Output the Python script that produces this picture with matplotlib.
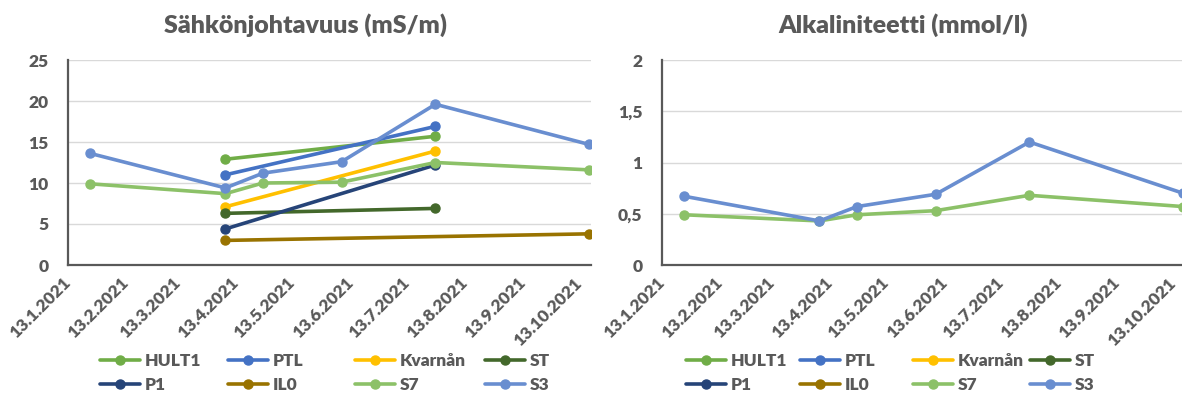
import datetime as dt

import matplotlib
matplotlib.use("Agg")
import matplotlib.pyplot as plt
import matplotlib.transforms as mtransforms
from matplotlib.ticker import FuncFormatter

plt.rcParams["font.family"] = ["Lato", "DejaVu Sans"]
plt.rcParams["font.weight"] = "bold"

GRAY = "#595959"

# näytteenottopäivät
dates_s = [dt.date(2021, 1, 25), dt.date(2021, 4, 7), dt.date(2021, 4, 27),
           dt.date(2021, 6, 8), dt.date(2021, 7, 28), dt.date(2021, 10, 18)]
dates_two = [dt.date(2021, 4, 7), dt.date(2021, 7, 28)]
dates_il0 = [dt.date(2021, 4, 7), dt.date(2021, 10, 18)]

# sähkönjohtavuus (mS/m)
hult1_ec = [12.9, 15.7]
ptl_ec = [11.0, 16.9]
kvarnan_ec = [7.1, 13.9]
st_ec = [6.3, 6.9]
p1_ec = [4.4, 12.2]
il0_ec = [3.0, 3.8]
s7_ec = [9.9, 8.7, 10.0, 10.1, 12.5, 11.6]
s3_ec = [13.6, 9.4, 11.2, 12.6, 19.6, 14.7]

# alkaliniteetti (mmol/l)
s7_alk = [0.49, 0.43, 0.49, 0.53, 0.68, 0.57]
s3_alk = [0.67, 0.43, 0.57, 0.69, 1.20, 0.70]

names = ["HULT1", "PTL", "Kvarnån", "ST", "P1", "IL0", "S7", "S3"]
colors = ["#70AD47", "#4472C4", "#FFC000", "#43682B",
          "#264478", "#997300", "#8CC168", "#698ED0"]

tick_dates = [dt.date(2021, m, 13) for m in range(1, 11)]
tick_labels = [f"{d.day}.{d.month}.{d.year}" for d in tick_dates]

W, H = 1182, 396
fig = plt.figure(figsize=(W / 100, H / 100), dpi=100)

ax1 = fig.add_axes([68 / W, 1 - 265 / H, 523 / W, 205 / H])
ax2 = fig.add_axes([662 / W, 1 - 265 / H, 523 / W, 205 / H])

style = dict(lw=2.6, marker="o", ms=6.5, solid_capstyle="round")

ec_series = [(dates_two, hult1_ec), (dates_two, ptl_ec), (dates_two, kvarnan_ec),
             (dates_two, st_ec), (dates_two, p1_ec), (dates_il0, il0_ec),
             (dates_s, s7_ec), (dates_s, s3_ec)]
alk_series = [([], []), ([], []), ([], []), ([], []), ([], []), ([], []),
              (dates_s, s7_alk), (dates_s, s3_alk)]

handles = {}
for ax, series in [(ax1, ec_series), (ax2, alk_series)]:
    hs = []
    for (x, y), name, c in zip(series, names, colors):
        (h,) = ax.plot(x, y, color=c, label=name, **style)
        hs.append(h)
    handles[ax] = hs

shift = mtransforms.ScaledTranslation(-6 / 100, 0, fig.dpi_scale_trans)

for ax in (ax1, ax2):
    ax.set_xlim(dt.date(2021, 1, 13), dt.date(2021, 10, 19))
    ax.set_xticks(tick_dates)
    ax.set_xticklabels(tick_labels, rotation=45, ha="right", rotation_mode="anchor")
    ax.tick_params(axis="both", length=0, colors=GRAY, labelsize=12.5)
    ax.tick_params(axis="x", pad=7)
    ax.tick_params(axis="y", pad=14)
    for s in ("top", "right"):
        ax.spines[s].set_visible(False)
    for s in ("left", "bottom"):
        ax.spines[s].set_color(GRAY)
        ax.spines[s].set_linewidth(1.6)
    ax.grid(axis="y", color="#D9D9D9", lw=1.0)
    ax.set_axisbelow(True)
    for lab in ax.get_xticklabels():
        lab.set_fontweight("heavy")
        lab.set_transform(lab.get_transform() + shift)

ax1.set_ylim(0, 25)
ax1.set_yticks([0, 5, 10, 15, 20, 25])
ax2.set_ylim(0, 2)
ax2.set_yticks([0, 0.5, 1, 1.5, 2])
ax2.yaxis.set_major_formatter(FuncFormatter(lambda v, p: f"{v:g}".replace(".", ",")))
for ax in (ax1, ax2):
    for lab in ax.get_yticklabels():
        lab.set_fontweight("heavy")

fig.text(305 / W, 1 - 25 / H, "Sähkönjohtavuus (mS/m)", ha="center", va="center",
         fontsize=18, color=GRAY, fontweight="heavy")
fig.text(903 / W, 1 - 25 / H, "Alkaliniteetti (mmol/l)", ha="center", va="center",
         fontsize=18, color=GRAY, fontweight="heavy")

# legendat: neljä saraketta, kaksi riviä
col_x = {ax1: [100, 228, 355, 485], ax2: [686, 800, 913, 1030]}
for ax in (ax1, ax2):
    hs = handles[ax]
    for i, x in enumerate(col_x[ax]):
        leg = fig.legend(handles=[hs[i], hs[i + 4]], loc="center left",
                         bbox_to_anchor=(x / W, 1 - 373 / H), frameon=False,
                         borderpad=0, borderaxespad=0, handlelength=2.3,
                         handletextpad=0.25, labelspacing=0.42, fontsize=12.5)
        for t in leg.get_texts():
            t.set_color(GRAY)
            t.set_fontweight("heavy")

fig.savefig("out.png", dpi=100)
